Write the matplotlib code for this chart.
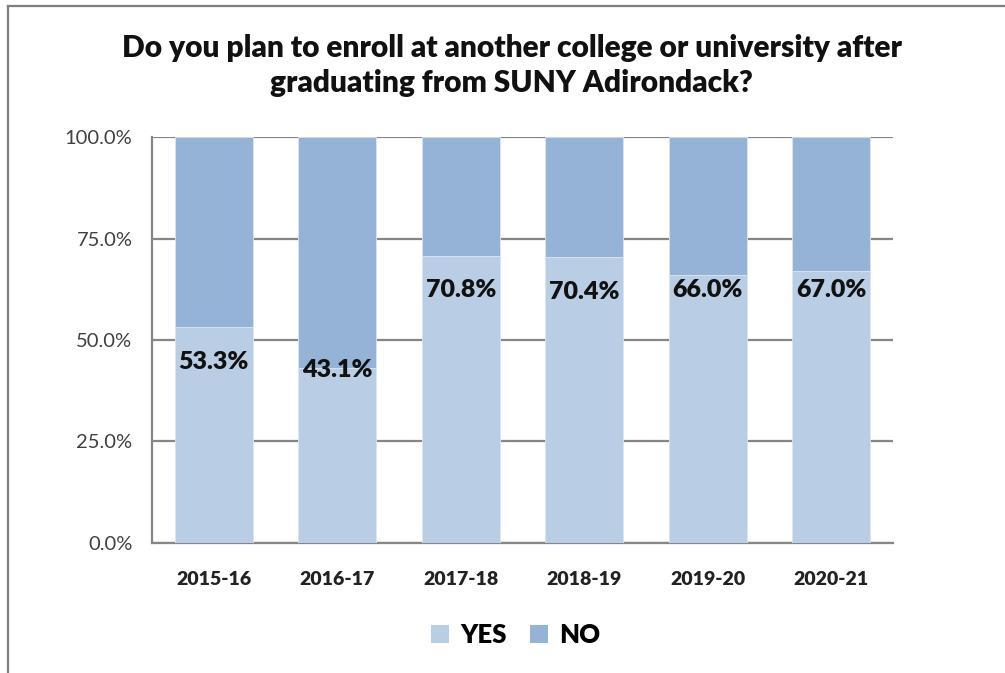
import numpy as np
import matplotlib.pyplot as plt
from matplotlib.lines import Line2D
from matplotlib.patches import Patch

years = ['2015-16', '2016-17', '2017-18', '2018-19', '2019-20', '2020-21']
yes_pct = [53.3, 43.1, 70.8, 70.4, 66.0, 67.0]
no_pct = [100 - v for v in yes_pct]

# how far below the top of the YES segment each label sits (data units)
label_drop = [8.6, 0.5, 8.6, 8.6, 3.7, 4.7]

c_yes = '#B9CDE5'
c_no = '#95B3D7'
grid_c = '#868686'

plt.rcParams['font.family'] = ['Lato', 'DejaVu Sans']

fig = plt.figure(figsize=(10.05, 6.73), dpi=100)
ax = fig.add_axes([0.1512, 0.1932, 0.8886 - 0.1512, 0.7964 - 0.1932])

x = np.arange(len(years))
w = 0.63
ax.bar(x, yes_pct, w, color=c_yes, edgecolor='#dce6f1', linewidth=0.6, zorder=3, label='YES')
ax.bar(x, no_pct, w, bottom=yes_pct, color=c_no, edgecolor='#dce6f1', linewidth=0.6, zorder=3, label='NO')

for xi, v, d in zip(x, yes_pct, label_drop):
    ax.text(xi, v - d, f'{v:.1f}%', ha='center', va='center',
            fontsize=18, fontweight='heavy', color='#111111', zorder=4)

ax.set_xlim(-0.5, len(years) - 0.5)
ax.set_ylim(0, 100)
ax.set_yticks([0, 25, 50, 75, 100])
ax.set_yticklabels([f'{t:.1f}%' for t in [0, 25, 50, 75, 100]], fontsize=14.5, color='#404040')
ax.set_xticks(x)
ax.set_xticklabels(years, fontsize=14, fontweight='heavy', color='#222222')
ax.tick_params(axis='x', length=0, pad=20)
ax.tick_params(axis='y', length=0, pad=14)

ax.grid(axis='y', color=grid_c, linewidth=1.6, zorder=1)
for s in ['top', 'right']:
    ax.spines[s].set_visible(False)
ax.spines['left'].set_color(grid_c)
ax.spines['left'].set_linewidth(1.6)
ax.spines['bottom'].set_color(grid_c)
ax.spines['bottom'].set_linewidth(1.6)

fig.text(0.509, 0.903, 'Do you plan to enroll at another college or university after\ngraduating from SUNY Adirondack?',
         ha='center', va='center', fontsize=21.5, fontweight='heavy', color='#111111', linespacing=1.28)

handles = [Patch(facecolor=c_yes, edgecolor='none'), Patch(facecolor=c_no, edgecolor='none')]
fig.legend(handles, ['YES', 'NO'], loc='center', bbox_to_anchor=(0.513, 0.057), ncol=2,
           frameon=False, prop={'size': 18.5, 'weight': 'heavy'},
           handlelength=0.7, handleheight=0.7, handletextpad=0.45, columnspacing=0.9)

# outer frame (top and left edges visible)
fig.add_artist(Line2D([8 / 1005, 1], [1 - 6 / 673, 1 - 6 / 673], transform=fig.transFigure, color='#7f7f7f', linewidth=1.6))
fig.add_artist(Line2D([8 / 1005, 8 / 1005], [0, 1 - 6 / 673], transform=fig.transFigure, color='#7f7f7f', linewidth=1.6))

fig.savefig('out.png', dpi=100)
